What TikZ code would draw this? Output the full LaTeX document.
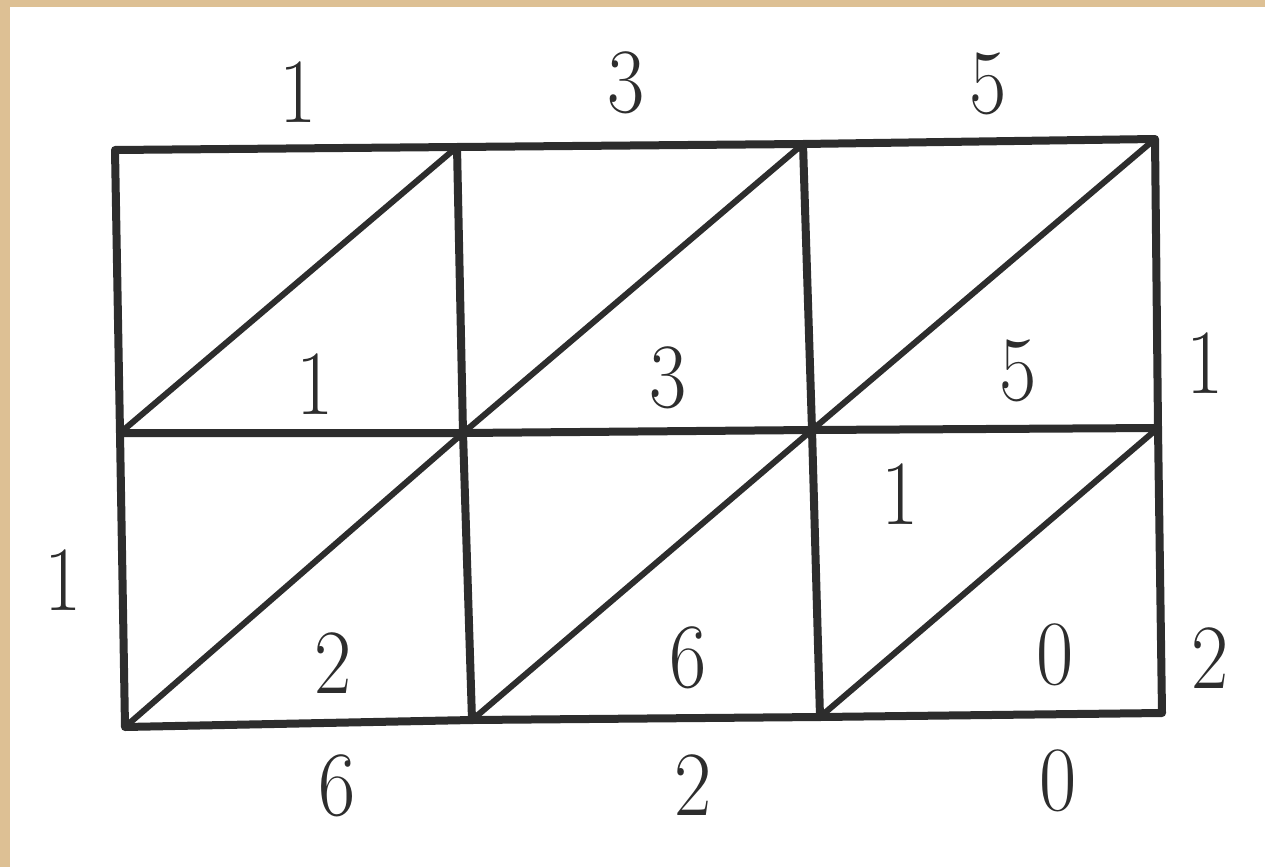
\documentclass[tikz,border=0pt]{standalone}
\usepackage{fontspec}
\definecolor{parch}{RGB}{221,192,148}
\definecolor{ink}{RGB}{45,45,45}
\newcommand{\dg}[1]{\scalebox{0.88}[1]{#1}}
\begin{document}
\begin{tikzpicture}[x=1pt,y=-1pt,
  gridline/.style={draw=ink,line width=8pt,line cap=round,line join=round},
  diagline/.style={draw=ink,line width=6pt,line cap=round},
  digit/.style={text=ink,inner sep=0pt,font=\fontsize{92}{92}\selectfont\addfontfeatures{FakeBold=1.2}}]
\useasboundingbox (0,0) rectangle (1265,867);
\fill[parch] (0,0) rectangle (1265,867);
\fill[white] (10,7) rectangle (1265,867);
% grid corners
\coordinate (a0) at (115,150); \coordinate (a1) at (457,147); \coordinate (a2) at (803,144); \coordinate (a3) at (1155,139);
\coordinate (b0) at (120,433); \coordinate (b1) at (463,433); \coordinate (b2) at (812,430); \coordinate (b3) at (1158,428);
\coordinate (c0) at (125,727); \coordinate (c1) at (472,720); \coordinate (c2) at (820,717); \coordinate (c3) at (1162,713);
% outer and inner lines
\draw[gridline] (a0) -- (a1) -- (a2) -- (a3) -- (b3) -- (c3) -- (c2) -- (c1) -- (c0) -- (b0) -- cycle;
\draw[gridline] (b0) -- (b1) -- (b2) -- (b3);
\draw[gridline] (a1) -- (b1) -- (c1);
\draw[gridline] (a2) -- (b2) -- (c2);
% diagonals
\draw[diagline] (b0) -- (a1);
\draw[diagline] (b1) -- (a2);
\draw[diagline] (b2) -- (a3);
\draw[diagline] (c0) -- (b1);
\draw[diagline] (c1) -- (b2);
\draw[diagline] (c2) -- (b3);
% labels
\node[digit] (t1) at (298,92) {\dg{1}};
\node[digit] (t2) at (626,83) {\dg{3}};
\node[digit] (t3) at (988,84) {\dg{5}};
\node[digit] (l1) at (63,580) {\dg{1}};
\node[digit] (r1) at (1205,363) {\dg{1}};
\node[digit] (r2) at (1210,658) {\dg{2}};
\node[digit] (d1) at (337,786) {\dg{6}};
\node[digit] (d2) at (693,785) {\dg{2}};
\node[digit] (d3) at (1058,781) {\dg{0}};
\node[digit] (i1) at (315,384) {\dg{1}};
\node[digit] (i2) at (668,378) {\dg{3}};
\node[digit] (i3) at (1018,371) {\dg{5}};
\node[digit] (i4) at (900,494) {\dg{1}};
\node[digit] (i5) at (333,663) {\dg{2}};
\node[digit] (i6) at (688,658) {\dg{6}};
\node[digit] (i7) at (1055,655) {\dg{0}};
\end{tikzpicture}
\end{document}
